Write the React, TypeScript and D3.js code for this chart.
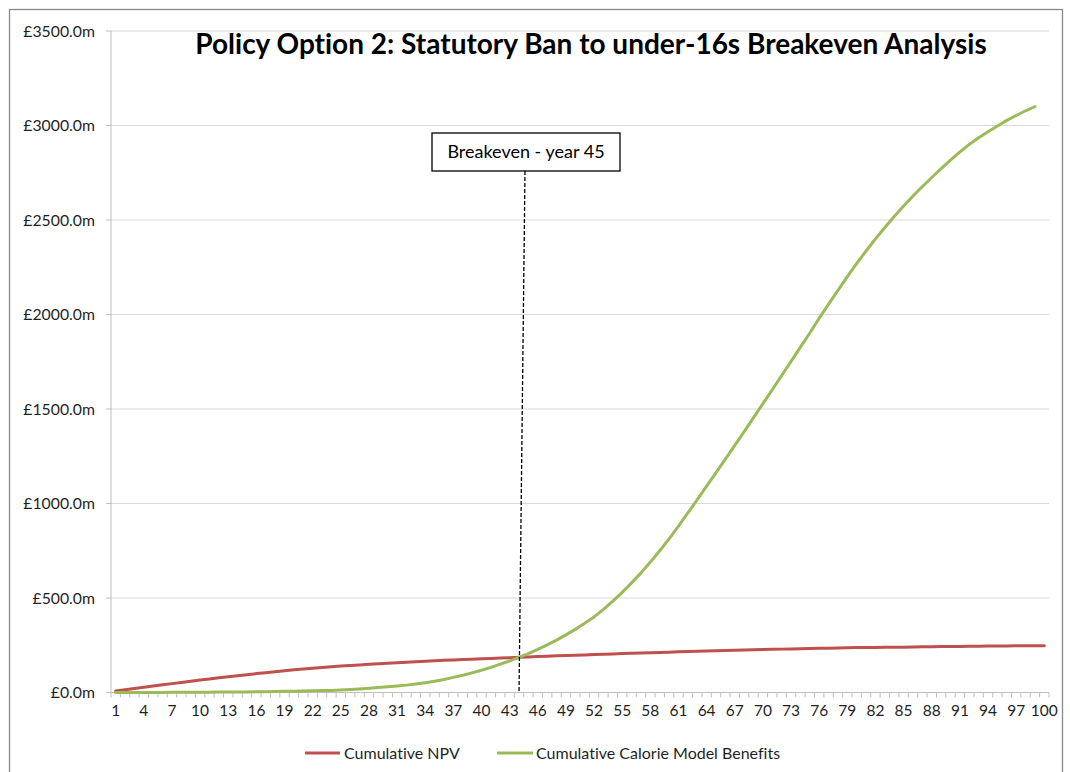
import React from "react";
import * as d3 from "d3";

const title = "Policy Option 2: Statutory Ban to under-16s Breakeven Analysis";
const years: number[] = Array.from({ length: 100 }, (_, i) => i + 1);

const cumulativeNPV: number[] = [
  8, 15, 21, 28, 34, 41, 47, 53, 60, 66,
  72, 78, 83, 89, 94, 100, 105, 110, 115, 120,
  124, 128, 132, 136, 140, 143, 146, 149, 152, 155,
  158, 160, 163, 165, 168, 170, 172, 174, 176, 178,
  180, 182, 184, 186, 188, 190, 192, 194, 196, 197.5,
  199, 201, 202.5, 204, 206, 207.5, 209, 210.5, 212, 213.5,
  215, 216.5, 218, 219.5, 221, 222, 223.5, 225, 226, 227.5,
  228.5, 229.5, 230.5, 231.5, 232.5, 233.5, 234.5, 235.5, 236.5, 237.5,
  238, 238.5, 239, 239.5, 240, 240.5, 241.5, 242, 243, 243.5,
  244, 244.5, 245, 245.5, 246, 246.5, 247, 247.5, 248, 248,
];

const cumulativeBenefits: number[] = [
  0, 0, 0, 0, 0.5, 0.5, 1, 1, 1, 1.5,
  1.5, 2, 2, 2.5, 3, 3.5, 4, 5, 6, 7,
  8, 9, 10, 11, 13, 16, 19, 22, 26, 30,
  34, 39, 45, 52, 60, 69, 80, 91, 104, 118,
  133, 150, 167, 186, 206, 228, 252, 277, 305, 334,
  366, 400, 440, 483, 530, 580, 633, 690, 750, 813,
  880, 950, 1020, 1092, 1163, 1235, 1308, 1380, 1454, 1528,
  1602, 1677, 1752, 1827, 1902, 1980, 2055, 2128, 2200, 2270,
  2336, 2400, 2460, 2518, 2574, 2627, 2677, 2725, 2772, 2817,
  2860, 2900, 2935, 2967, 2997, 3027, 3053, 3078, 3100,
];

const yTicks: number[] = [0, 500, 1000, 1500, 2000, 2500, 3000, 3500];
const xLabelYears: number[] = years.filter((y) => (y - 1) % 3 === 0);

const seriesNames = ["Cumulative NPV", "Cumulative Calorie Model Benefits"];
const seriesColors = ["#C0504D", "#9BBB59"];

const breakevenLabel = "Breakeven - year 45";
const breakevenCategory = 44;

const FONT = "Lato, 'Open Sans', sans-serif";

export default function App() {
  const W = 1070;
  const H = 772;
  const left = 111;
  const right = 1049;
  const top = 31;
  const bottom = 692.5;

  const x = d3.scaleBand<number>().domain(years).range([left, right]).paddingInner(0).paddingOuter(0);
  const y = d3.scaleLinear().domain([0, 3500]).range([bottom, top]);
  const cx = (yr: number) => (x(yr) as number) + x.bandwidth() / 2;

  const line = d3
    .line<number>()
    .x((_, i) => cx(i + 1))
    .y((v) => y(v));

  const boundaries = d3.range(0, years.length + 1).map((i) => left + i * x.bandwidth());

  const boxX = 432;
  const boxY = 133;
  const boxW = 188;
  const boxH = 38;

  return (
    <svg
      width={W}
      height={H}
      style={{ position: "absolute", left: 0, top: 0, display: "block", background: "#fff", fontVariantLigatures: "none" }}
      fontFamily={FONT}
    >
      <rect x={0} y={0} width={W} height={H} fill="#fff" />
      <rect x={9.5} y={9.5} width={1053} height={800} fill="#fff" stroke="#898989" strokeWidth={1.3} />

      {yTicks.map((t) => (
        <line key={"g" + t} x1={left} x2={right} y1={y(t)} y2={y(t)} stroke="#D9D9D9" strokeWidth={1} />
      ))}

      <line x1={left} x2={left} y1={top} y2={bottom} stroke="#BFBFBF" strokeWidth={1} />
      {yTicks.map((t) => (
        <g key={"yt" + t}>
          <line x1={left - 5} x2={left} y1={y(t)} y2={y(t)} stroke="#BFBFBF" />
          <text x={95} y={y(t)} dy="0.35em" textAnchor="end" fontSize={15.8} fill="#1f1f1f">
            {"£" + t.toFixed(1) + "m"}
          </text>
        </g>
      ))}

      <line x1={left} x2={right} y1={bottom} y2={bottom} stroke="#BFBFBF" strokeWidth={1} />
      {boundaries.map((b, i) => (
        <line key={"xt" + i} x1={b} x2={b} y1={bottom} y2={bottom + 5} stroke="#BFBFBF" />
      ))}
      {xLabelYears.map((yr) => (
        <text key={"xl" + yr} x={cx(yr)} y={bottom + 23} textAnchor="middle" fontSize={15.5} fill="#1f1f1f">
          {yr}
        </text>
      ))}

      <path d={line(cumulativeNPV) || ""} fill="none" stroke={seriesColors[0]} strokeWidth={3} strokeLinejoin="round" strokeLinecap="round" />
      <path d={line(cumulativeBenefits) || ""} fill="none" stroke={seriesColors[1]} strokeWidth={3} strokeLinejoin="round" strokeLinecap="round" />

      <line
        x1={boxX + boxW / 2 - 1}
        y1={boxY + boxH}
        x2={cx(breakevenCategory)}
        y2={bottom}
        stroke="#000"
        strokeWidth={1.3}
        strokeDasharray="4,2"
      />
      <rect x={boxX} y={boxY} width={boxW} height={boxH} fill="#fff" stroke="#000" strokeWidth={1.3} />
      <text x={boxX + boxW / 2} y={boxY + boxH / 2} dy="0.35em" textAnchor="middle" fontSize={18} fill="#000">
        {breakevenLabel}
      </text>

      <text x={591} y={54} textAnchor="middle" fontSize={28} fontWeight="bold" fill="#000">
        {title}
      </text>

      <line x1={305} x2={340} y1={753} y2={753} stroke={seriesColors[0]} strokeWidth={3} />
      <text x={344} y={753} dy="0.35em" fontSize={16} fill="#1f1f1f">{seriesNames[0]}</text>
      <line x1={497} x2={533} y1={753} y2={753} stroke={seriesColors[1]} strokeWidth={3} />
      <text x={536} y={753} dy="0.35em" fontSize={16} fill="#1f1f1f">{seriesNames[1]}</text>
    </svg>
  );
}
